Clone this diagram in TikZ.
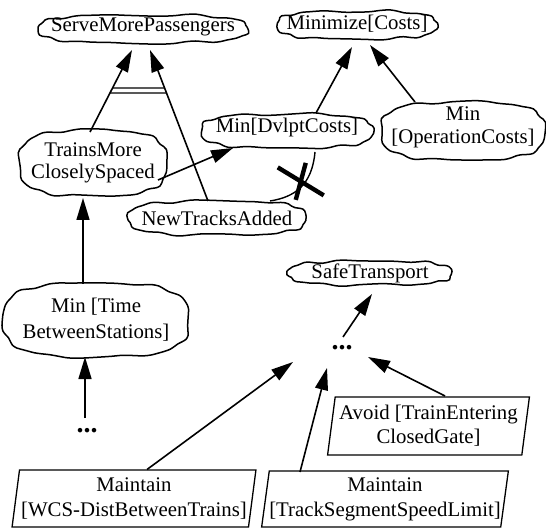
\documentclass[tikz,border=0pt]{standalone}
\usepackage{fontspec}
\setmainfont{Liberation Serif}
\usetikzlibrary{shapes.geometric,arrows.meta,calc}
\newcommand{\drawcloud}[5]{%
  \draw[cloudline,shift={($(#1.center)+(0,#5)$)}]
    plot[smooth cycle,domain=3:357,samples=60,variable=\myt]
    ({(#2+0.9*sin(9*\myt+#4)+0.6*sin(14*\myt+2*#4))*sign(cos(\myt))*pow(abs(cos(\myt)),0.667)},
     {(#3+0.9*sin(9*\myt+#4)+0.6*sin(14*\myt+2*#4))*sign(sin(\myt))*pow(abs(sin(\myt)),0.667)});}
\begin{document}
\begin{tikzpicture}[x=0.5pt,y=-0.5pt,
  font=\fontsize{10.4}{12.5}\selectfont,
  lbl/.style={inner sep=0pt,align=center},
  cloudline/.style={line width=0.75pt,line join=round},
  req/.style={trapezium,trapezium left angle=80,trapezium right angle=100,trapezium stretches=true,draw,line width=0.65pt,inner sep=0pt,align=center},
  arr/.style={line width=0.8pt,-{Triangle[length=11pt,width=6.5pt]}},
  andbar/.style={line width=0.6pt},
  cross/.style={line width=2.2pt},
  dots/.style={inner sep=0pt,font=\fontsize{14}{14}\selectfont\bfseries}]
\useasboundingbox (0,0) rectangle (546,529);

% goal clouds (text nodes + outlines)
\node[lbl] (smp) at (143,27) {ServeMorePassengers};
\node[lbl] (minc) at (357,24) {Minimize[Costs]};
\node[lbl] (mdc) at (287,128) {Min[DvlptCosts]};
\node[lbl,font=\fontsize{10.4}{11.5}\selectfont] (moc) at (463,127) {Min\\{[}OperationCosts]};
\node[lbl,font=\fontsize{10.4}{11}\selectfont] (tmcs) at (93,163) {TrainsMore\\CloselySpaced};
\node[lbl] (nta) at (217,218) {NewTracksAdded};
\node[lbl] (st) at (370,273) {SafeTransport};
\node[lbl,font=\fontsize{10.4}{13}\selectfont] (mtbs) at (96,320) {Min [Time\\BetweenStations]};

\drawcloud{smp}{105}{14}{0}{2}
\drawcloud{minc}{80}{14}{40}{1}
\drawcloud{mdc}{86}{17}{80}{3}
\drawcloud{moc}{82}{29}{120}{4}
\drawcloud{tmcs}{74}{33}{160}{0}
\drawcloud{nta}{89}{17}{200}{0}
\drawcloud{st}{82}{12}{240}{0}
\drawcloud{mtbs}{93}{37}{280}{0}

% ellipsis nodes
\node[dots] (dots1) at (87,431) {...};
\node[dots] (dots2) at (342,348) {...};

% requirement boxes
\node[req,minimum width=101.5pt,minimum height=29pt,font=\fontsize{10.4}{12}\selectfont] (avoid) at (428.5,426) {Avoid [TrainEntering\\ClosedGate]};
\node[req,minimum width=122pt,minimum height=28.5pt] (mw) at (134,498.5) {Maintain\\{[}WCS-DistBetweenTrains]};
\node[req,minimum width=123pt,minimum height=28pt] (mt) at (385,499) {Maintain\\{[}TrackSegmentSpeedLimit]};

% connectors
\draw[arr] ($(tmcs)+(-3,-31)$) -- coordinate[pos=0.4756] (a1) coordinate[pos=0.5366] (a2) ($(smp)+(-11,23)$);
\draw[arr] ($(nta)+(-9,-17)$) -- coordinate[pos=0.7152] (b1) coordinate[pos=0.7483] (b2) ($(smp)+(7,23)$);
\draw[andbar] (a1) -- (b1) (a2) -- (b2);
\draw[arr] ($(tmcs)+(65,17)$) -- ($(mdc)+(-54,20)$);
\draw[arr] ($(mdc)+(29,-15)$) -- ($(minc)+(-5,23)$);
\draw[arr] ($(moc)+(-48,-25)$) -- ($(minc)+(13,21)$);
\draw[arr] ($(mtbs)+(-13,-36)$) -- ($(tmcs)+(-10,35)$);
\draw[arr] ($(dots1)+(-2,-13)$) -- ($(mtbs)+(-11,37)$);
\draw[arr] ($(dots2)+(1,-11)$) -- ($(st)+(2,21)$);
\draw[arr] ($(mw)+(13,-29)$) -- ($(dots2)+(-49,14)$);
\draw[arr] ($(mt)+(-85,-27)$) -- ($(dots2)+(-15,20)$);
\draw[arr] ($(avoid)+(16.5,-30)$) -- ($(dots2)+(26,9)$);

% obstruction link with cross
\draw[line width=0.7pt] ($(mdc)+(28,24)$) .. controls +(-3,33) and +(25,-4) .. coordinate[pos=0.5] (xc) ($(nta)+(53,-17)$);
\coordinate (xm) at ($(xc)+(0,-6)$);
\draw[cross] ($(xm)+(-23,-14)$) -- ($(xm)+(23,14)$);
\draw[cross] ($(xm)+(5,-18.5)$) -- ($(xm)+(-5,18.5)$);
\end{tikzpicture}
\end{document}
